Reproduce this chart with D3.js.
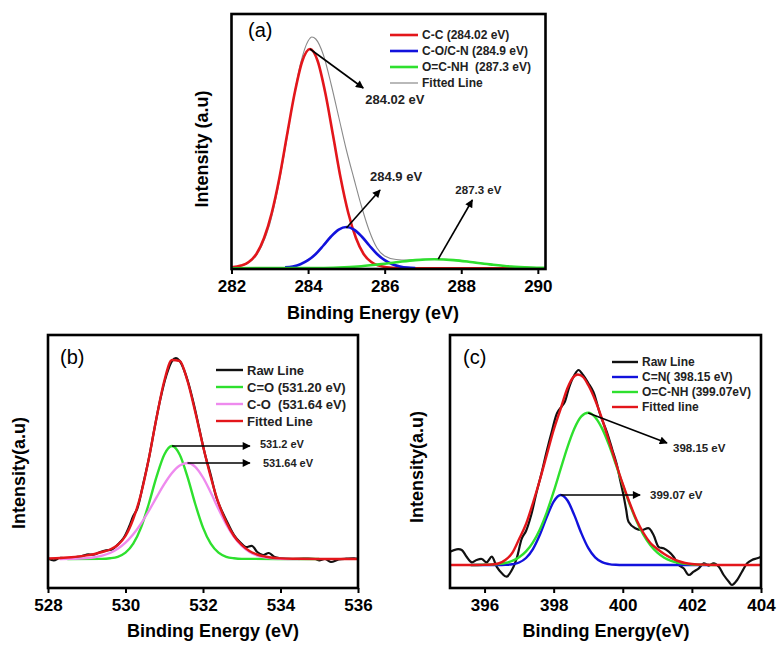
<!DOCTYPE html>
<html>
<head>
<meta charset="utf-8">
<script src="https://cdn.jsdelivr.net/npm/d3@7"></script>
<style>
  html, body { margin: 0; padding: 0; background: #fff; }
  svg { display: block; font-family: "Liberation Sans", Arial, sans-serif; }
  text { white-space: pre; }
</style>
</head>
<body>
<div id="chart"></div>
<script>
// ---- (a) C 1s : [binding energy eV, intensity a.u.] ----
const c1sTicks = [282, 284, 286, 288, 290];
const c1sCC = [[282.0,1.7],[282.25,3.4],[282.45,7],[282.65,15],[282.85,31],[283.05,56],[283.25,91],[283.45,134],[283.65,176],[283.85,208],[284.05,220],[284.25,208],[284.45,176],[284.65,134],[284.85,91],[285.05,56],[285.25,31],[285.45,15],[285.65,7],[285.85,3.4],[286.05,1.8],[286.5,0.8],[287.5,0.6],[290.2,0.6]];
const c1sCON = [[283.4,1.6],[283.6,2.6],[283.8,4.8],[284.0,8.8],[284.2,15],[284.4,23.5],[284.6,32.5],[284.8,39.4],[285.0,42],[285.2,39.4],[285.4,32.5],[285.6,23.5],[285.8,15],[286.0,8.8],[286.2,4.8],[286.4,2.6],[286.6,1.4],[286.8,1]];
const c1sOCNH = [[282.0,0.8],[283.5,0.9],[284.3,1.0],[284.8,1.5],[285.3,2.5],[285.8,4.4],[286.3,6.7],[286.8,8.9],[287.3,9.8],[287.8,8.9],[288.3,6.7],[288.8,4.4],[289.3,2.5],[289.8,1.5],[290.2,1.1]];
const c1sFit = [[282.0,1.5],[282.4,5],[282.8,24],[283.0,45],[283.2,78],[283.4,120],[283.6,166],[283.8,205],[284.0,228],[284.1,232],[284.2,230],[284.4,214],[284.6,185],[284.8,152],[285.0,119],[285.2,90],[285.4,62],[285.6,38],[285.8,21],[286.0,13],[286.3,9.5],[286.6,9],[287.0,9.8],[287.3,10],[287.6,9.8],[288.0,8.5],[288.5,6],[289.0,3.7],[289.5,2.2],[290.2,1.3]];
const c1sLegend = ["C-C (284.02 eV)", "C-O/C-N (284.9 eV)", "O=C-NH  (287.3 eV)", "Fitted Line"];
const c1sNotes = ["284.02 eV", "284.9 eV", "287.3 eV"];

// ---- (b) O 1s ----
const o1sTicks = [528, 530, 532, 534, 536];
const o1sRaw = [[528.0,0.5],[528.15,-1.3],[528.3,1],[528.5,0.5],[528.7,1.8],[528.85,2.5],[529.0,4.5],[529.2,4.5],[529.35,7],[529.5,8.7],[529.65,9.5],[529.8,14.5],[529.95,21],[530.1,33],[530.2,43],[530.3,50],[530.45,74],[530.6,100],[530.75,131],[530.9,160],[531.05,183],[531.2,198],[531.3,201],[531.4,198],[531.5,190],[531.6,179],[531.75,157],[531.9,131],[532.05,105],[532.2,84],[532.35,61],[532.5,47],[532.65,35],[532.8,24],[532.95,17],[533.1,12],[533.27,13],[533.4,7],[533.55,4],[533.7,6],[533.85,2],[534.0,0.8],[534.3,0],[534.6,0.3],[534.9,0],[535.0,-1.3],[535.15,0],[535.3,-3],[535.5,-0.5],[535.7,0.3],[535.9,0.7],[536.0,0]];
const o1sCdO = [[528.5,0],[529.4,0.15],[529.6,0.7],[529.8,2.2],[530.0,6.3],[530.2,15.3],[530.4,31.4],[530.6,55],[530.8,82.1],[531.0,104.3],[531.2,113],[531.4,104.3],[531.6,82.1],[531.8,55],[532.0,31.4],[532.2,15.3],[532.4,6.3],[532.6,2.2],[532.8,0.7],[533.0,0.15],[535.0,0]];
const o1sCO = [[528.3,0],[528.6,0.2],[528.8,0.4],[529.0,0.9],[529.2,1.8],[529.4,3.4],[529.6,6.0],[529.8,10.2],[530.0,16.3],[530.2,24.7],[530.4,35.4],[530.6,48],[530.8,61.6],[531.0,74.8],[531.2,85.9],[531.4,93.4],[531.6,96],[531.8,92.2],[532.0,81.5],[532.2,66.5],[532.4,50],[532.6,34.6],[532.8,22.1],[533.0,13],[533.2,7],[533.4,3.5],[533.6,1.6],[533.8,0.7],[534.0,0.3],[534.5,0]];
const o1sFit = [[528.0,0.5],[528.2,0.8],[528.4,1.2],[528.6,1.8],[528.8,2.6],[529.0,3.6],[529.2,5],[529.4,7],[529.6,9.5],[529.8,14],[530.0,23],[530.2,40],[530.4,65],[530.6,100],[530.8,141],[531.0,178],[531.2,199],[531.4,198],[531.6,178],[531.8,147],[532.0,113],[532.2,82],[532.4,56],[532.6,37],[532.8,23],[533.0,14],[533.2,8],[533.4,4.5],[533.6,2.5],[533.8,1.2],[534.0,0.6],[534.4,0.2],[535.0,0],[536.0,0]];
const o1sLegend = ["Raw Line", "C=O (531.20 eV)", "C-O  (531.64 eV)", "Fitted Line"];
const o1sNotes = ["531.2 eV", "531.64 eV"];

// ---- (c) N 1s ----
const n1sTicks = [396, 398, 400, 402, 404];
const n1sRaw = [[395.0,13.3],[395.19,15.7],[395.34,15],[395.48,8.3],[395.63,2.7],[395.77,5],[395.92,6],[396.06,2.7],[396.21,8.3],[396.35,-1.7],[396.5,-8.3],[396.64,-11.7],[396.79,-5],[396.93,6.7],[397.08,26.7],[397.2,34],[397.35,50],[397.5,72],[397.65,92],[397.8,114],[397.95,134],[398.1,152],[398.22,158],[398.32,163],[398.45,178],[398.6,190],[398.72,195],[398.85,190],[399.0,182],[399.15,173],[399.35,150],[399.54,133],[399.7,115],[399.83,100],[399.93,84],[400.02,70],[400.1,55],[400.17,43],[400.36,36.7],[400.56,35],[400.75,36.7],[400.89,30],[401.04,18],[401.18,16.7],[401.33,13.3],[401.47,8.3],[401.62,0],[401.76,-3.3],[401.91,-10],[402.05,-6.7],[402.2,-3.3],[402.34,1.7],[402.49,-0.7],[402.63,1.7],[402.78,-1.7],[402.92,-10],[403.07,-16.7],[403.16,-20],[403.31,-15],[403.45,-6.7],[403.6,1.7],[403.74,5],[403.89,6.7],[404.0,8.3]];
const n1sCN = [[395.6,0],[396.4,0],[396.6,0.2],[396.8,0.8],[397.0,2.5],[397.2,7.0],[397.4,15.9],[397.6,30.2],[397.8,47.9],[398.0,63.4],[398.2,70],[398.4,64.5],[398.6,49.6],[398.8,31.9],[399.0,17.1],[399.2,7.6],[399.4,2.8],[399.6,0.9],[399.8,0.2],[400.0,0],[402.5,0]];
const n1sOCNH = [[395.6,0],[396.0,0.2],[396.2,0.4],[396.4,1.0],[396.6,2.0],[396.8,4.1],[397.0,7.7],[397.2,13.6],[397.4,22.7],[397.6,35.6],[397.8,52.7],[398.0,73.3],[398.2,95.8],[398.4,117.9],[398.6,136.5],[398.8,148.6],[399.0,152.3],[399.2,147.8],[399.4,136.6],[399.6,120.1],[399.8,100.6],[400.0,80.1],[400.2,60.8],[400.4,43.8],[400.6,30.1],[400.8,19.7],[401.0,12.3],[401.2,7.3],[401.4,4.1],[401.6,2.2],[401.8,1.1],[402.0,0.5],[402.4,0.1],[402.7,0]];
const n1sFit = [[395.0,0],[395.8,0],[396.0,0.2],[396.2,0.5],[396.4,1.5],[396.6,5],[396.8,12],[397.0,26],[397.2,41],[397.4,62],[397.6,85],[397.8,110],[398.0,135],[398.2,156],[398.4,177],[398.55,187],[398.7,190.5],[398.85,188],[399.0,180],[399.2,165],[399.4,146],[399.6,124],[399.8,102],[400.0,81],[400.2,62],[400.4,45],[400.6,32],[400.8,22],[401.0,16],[401.2,11],[401.4,7],[401.6,4],[401.8,2],[402.0,1],[402.4,0.3],[403.0,0],[404.0,0]];
const n1sLegend = ["Raw Line", "C=N( 398.15 eV)", "O=C-NH (399.07eV)", "Fitted line"];
const n1sNotes = ["398.15 eV", "399.07 eV"];

const RED = "#e3161b", BLUE = "#1212dc", GREEN = "#2ee02e", PINK = "#ee8aee", GREY = "#8a8a8a", BLACK = "#111";

const width = 778, height = 645;
const svg = d3.select("#chart").append("svg")
    .attr("width", width)
    .attr("height", height);

svg.append("defs").append("marker")
    .attr("id", "arrow")
    .attr("viewBox", "0 0 10 10")
    .attr("refX", 9).attr("refY", 5)
    .attr("markerWidth", 9).attr("markerHeight", 8)
    .attr("markerUnits", "userSpaceOnUse")
    .attr("orient", "auto")
    .append("path")
    .attr("d", "M0,0L10,5L0,10Z")
    .attr("fill", "#000");

const panels = [
    {
        xDomain: [282, 290.2], xRange: [231.5, 545.5],
        yDomain: [0, 255], yRange: [269, 14],
        ticks: c1sTicks,
        tag: "(a)", tagPos: [248, 37],
        xTitle: "Binding Energy (eV)", xTitlePos: [373, 319],
        yTitle: "Intensity (a.u)", yTitlePos: [202, 149],
        series: [
            {data: c1sFit, color: GREY, w: 1.1},
            {data: c1sCC, color: RED, w: 2.6},
            {data: c1sCON, color: BLUE, w: 2.6},
            {data: c1sOCNH, color: GREEN, w: 2.6}
        ],
        legend: {x: 390, y: 35, dy: 16, len: 28, font: 12,
            items: [[c1sLegend[0], RED, 2.6], [c1sLegend[1], BLUE, 2.6], [c1sLegend[2], GREEN, 2.6], [c1sLegend[3], GREY, 1.2]]},
        notes: [
            {text: c1sNotes[0], from: [284.05, 220], to: [285.44, 181], dx: 2, dy: 16, font: 13},
            {text: c1sNotes[1], from: [285.0, 41], to: [285.88, 79], dx: -10, dy: -9, font: 13},
            {text: c1sNotes[2], from: [287.4, 10], to: [288.29, 69], dx: -17, dy: -6, font: 11.5}
        ]
    },
    {
        xDomain: [528, 536], xRange: [48, 358],
        yDomain: [-29, 224], yRange: [588, 335],
        ticks: o1sTicks,
        tag: "(b)", tagPos: [60, 364],
        xTitle: "Binding Energy (eV)", xTitlePos: [213, 637],
        yTitle: "Intensity(a.u)", yTitlePos: [19, 473],
        series: [
            {data: o1sRaw, color: BLACK, w: 2.2, raw: true},
            {data: o1sCdO, color: GREEN, w: 2.4},
            {data: o1sCO, color: PINK, w: 2.4},
            {data: o1sFit, color: RED, w: 2.4}
        ],
        legend: {x: 216, y: 370, dy: 17, len: 27, font: 13,
            items: [[o1sLegend[0], BLACK, 2.4], [o1sLegend[1], GREEN, 2.4], [o1sLegend[2], PINK, 2.4], [o1sLegend[3], RED, 2.4]]},
        notes: [
            {text: o1sNotes[0], from: [531.2, 113], to: [533.21, 113], dx: 10, dy: 2, font: 11},
            {text: o1sNotes[1], from: [531.6, 96], to: [533.21, 96], dx: 13, dy: 4, font: 11}
        ]
    },
    {
        xDomain: [395, 404], xRange: [450, 761],
        yDomain: [-23, 230], yRange: [588, 335],
        ticks: n1sTicks,
        tag: "(c)", tagPos: [463, 364],
        xTitle: "Binding Energy(eV)", xTitlePos: [606, 637],
        yTitle: "Intensity(a.u)", yTitlePos: [417, 467],
        series: [
            {data: n1sRaw, color: BLACK, w: 2.2, raw: true},
            {data: n1sCN, color: BLUE, w: 2.4},
            {data: n1sOCNH, color: GREEN, w: 2.4},
            {data: n1sFit, color: RED, w: 2.4}
        ],
        legend: {x: 612, y: 362, dy: 15, len: 26, font: 12,
            items: [[n1sLegend[0], BLACK, 2.4], [n1sLegend[1], BLUE, 2.4], [n1sLegend[2], GREEN, 2.4], [n1sLegend[3], RED, 2.4]]},
        notes: [
            {text: n1sNotes[0], from: [399.0, 152], to: [401.28, 122], dx: 6, dy: 9, font: 11.5},
            {text: n1sNotes[1], from: [398.2, 70], to: [400.5, 70], dx: 10, dy: 4, font: 11.5}
        ]
    }
];

panels.forEach(drawPanel);

function drawPanel(p) {
    const x = d3.scaleLinear().domain(p.xDomain).range(p.xRange);
    const y = d3.scaleLinear().domain(p.yDomain).range(p.yRange);
    const g = svg.append("g");

    // clip so curves stay inside the frame
    const clipId = "clip" + p.tag.replace(/\W/g, "");
    svg.select("defs").append("clipPath").attr("id", clipId)
        .append("rect")
        .attr("x", p.xRange[0]).attr("y", p.yRange[1])
        .attr("width", p.xRange[1] - p.xRange[0])
        .attr("height", p.yRange[0] - p.yRange[1]);

    const lines = g.append("g").attr("clip-path", `url(#${clipId})`);
    p.series.forEach(s => {
        const line = d3.line()
            .x(d => x(d[0]))
            .y(d => y(d[1]))
            .curve(s.raw ? d3.curveCatmullRom.alpha(0.5) : d3.curveMonotoneX);
        lines.append("path")
            .datum(s.data)
            .attr("d", line)
            .attr("fill", "none")
            .attr("stroke", s.color)
            .attr("stroke-width", s.w)
            .attr("stroke-linejoin", "round");
    });

    // frame
    g.append("rect")
        .attr("x", p.xRange[0]).attr("y", p.yRange[1])
        .attr("width", p.xRange[1] - p.xRange[0])
        .attr("height", p.yRange[0] - p.yRange[1])
        .attr("fill", "none")
        .attr("stroke", "#000")
        .attr("stroke-width", 2.6);

    // bottom axis
    const ax = g.append("g")
        .attr("transform", `translate(0,${p.yRange[0]})`)
        .call(d3.axisBottom(x).tickValues(p.ticks).tickSize(5).tickSizeOuter(0).tickPadding(6).tickFormat(d3.format("d")));
    ax.select(".domain").remove();
    ax.selectAll(".tick line").attr("stroke", "#000").attr("stroke-width", 2);
    ax.selectAll(".tick text")
        .attr("fill", "#000")
        .attr("font-size", 17)
        .attr("font-weight", "bold")
        .attr("font-family", '"Liberation Sans", Arial, sans-serif');

    // titles
    g.append("text")
        .attr("x", p.xTitlePos[0]).attr("y", p.xTitlePos[1])
        .attr("text-anchor", "middle")
        .attr("font-size", 18).attr("font-weight", "bold")
        .text(p.xTitle);
    g.append("text")
        .attr("transform", `translate(${p.yTitlePos[0]},${p.yTitlePos[1]}) rotate(-90)`)
        .attr("text-anchor", "middle")
        .attr("dominant-baseline", "central")
        .attr("font-size", 18).attr("font-weight", "bold")
        .text(p.yTitle);
    g.append("text")
        .attr("x", p.tagPos[0]).attr("y", p.tagPos[1])
        .attr("font-size", 20)
        .text(p.tag);

    // legend
    const lg = g.append("g");
    p.legend.items.forEach((it, i) => {
        const ly = p.legend.y + i * p.legend.dy;
        lg.append("line")
            .attr("x1", p.legend.x).attr("x2", p.legend.x + p.legend.len)
            .attr("y1", ly).attr("y2", ly)
            .attr("stroke", it[1]).attr("stroke-width", it[2]);
        lg.append("text")
            .attr("x", p.legend.x + p.legend.len + 4).attr("y", ly)
            .attr("dominant-baseline", "central")
            .attr("font-size", p.legend.font).attr("font-weight", "bold")
            .attr("fill", "#222")
            .text(it[0]);
    });

    // arrows with peak labels
    p.notes.forEach(n => {
        const x1 = x(n.from[0]), y1 = y(n.from[1]);
        const x2 = x(n.to[0]), y2 = y(n.to[1]);
        g.append("line")
            .attr("x1", x1).attr("y1", y1).attr("x2", x2).attr("y2", y2)
            .attr("stroke", "#000").attr("stroke-width", 1.6)
            .attr("marker-end", "url(#arrow)");
        g.append("text")
            .attr("x", x2 + n.dx).attr("y", y2 + n.dy)
            .attr("font-size", n.font).attr("font-weight", "bold")
            .attr("fill", "#222")
            .text(n.text);
    });
}
</script>
</body>
</html>
